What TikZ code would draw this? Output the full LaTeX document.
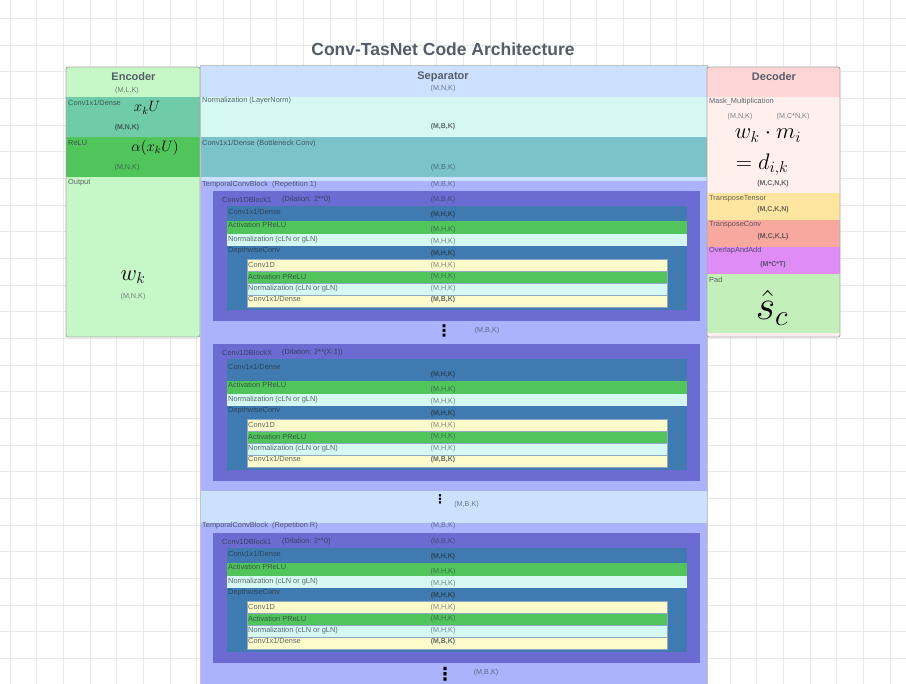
\documentclass[tikz,border=0pt]{standalone}
\usepackage{fix-cm}
\usepackage[no-math]{fontspec}
\setmainfont{Liberation Sans}
\newfontfamily\symfont{DejaVu Sans}

\definecolor{gridgray}{HTML}{E8E8E8}
\definecolor{framegray}{HTML}{A8A8A8}
\definecolor{headgray}{HTML}{555D66}
\definecolor{txtdark}{HTML}{26303A}
\definecolor{encgreen}{HTML}{C6F7C6}
\definecolor{encteal}{HTML}{70CCA8}
\definecolor{relugreen}{HTML}{52C45C}
\definecolor{sepblue}{HTML}{CCE0FF}
\definecolor{normcyan}{HTML}{D6F8F3}
\definecolor{bneck}{HTML}{7CC2C9}
\definecolor{lavender}{HTML}{ABB3FC}
\definecolor{blkpurple}{HTML}{6B6BD1}
\definecolor{steel}{HTML}{3F7AB0}
\definecolor{rowyellow}{HTML}{FDFBCB}
\definecolor{rowedge}{HTML}{8FA8C4}
\definecolor{decpink}{HTML}{FFD6D6}
\definecolor{maskpink}{HTML}{FFF0EE}
\definecolor{ttyellow}{HTML}{FFE6A0}
\definecolor{tcsalmon}{HTML}{F8A99F}
\definecolor{oaviolet}{HTML}{DF8CF7}
\definecolor{padgreen}{HTML}{C3EFBB}

\tikzset{
  gridline/.style={draw=gridgray, line width=0.6pt},
  boxframe/.style={draw=framegray, line width=0.9pt, rounded corners=2pt},
  charttitle/.style={font=\bfseries\fontsize{17.5}{20}\selectfont, text=headgray, inner sep=0pt},
  head/.style={font=\bfseries\fontsize{11}{13}\selectfont, text=headgray, inner sep=0pt},
  lbl/.style={anchor=west, inner sep=0pt, font=\fontsize{7.4}{8}\selectfont, text=txtdark, text opacity=0.72},
  dims/.style={inner sep=0pt, font=\fontsize{7.2}{8}\selectfont, text=txtdark, text opacity=0.58},
  dimsb/.style={dims, font=\bfseries\fontsize{7}{8}\selectfont, text opacity=0.72},
  eq/.style={inner sep=0pt, font=\fontsize{15}{17}\selectfont},
  eqbig/.style={inner sep=0pt, font=\fontsize{22.5}{25}\selectfont},
  dotsnode/.style={inner sep=0pt, font=\symfont\bfseries\fontsize{16}{16}\selectfont},
  innerrow/.style={draw=rowedge, line width=0.5pt},
}

\begin{document}
\begin{tikzpicture}[x=1pt, y=-1pt]
\useasboundingbox (0,0) rectangle (906,684);
\fill[white] (0,0) rectangle (906,684);
% background grid
\foreach \gx in {0,...,33}
  \draw[gridline] ({10+26.67*\gx},0) -- ({10+26.67*\gx},684);
\foreach \gy in {0,...,24}
  \draw[gridline] (0,{18.3+26.67*\gy}) -- (906,{18.3+26.67*\gy});

\node[charttitle] (title) at (443,49) {Conv-TasNet Code Architecture};

% encoder
\fill[encgreen] (66,67) rectangle (200,97);
\fill[encteal] (66,97) rectangle (200,137);
\fill[relugreen] (66,137) rectangle (200,177);
\fill[encgreen] (66,177) rectangle (200,337);
\draw[boxframe] (66,67) rectangle (200,337);
\node[head] (enc) at (133.5,77) {Encoder};
\node[dims] (enc-in) at (127,91) {(M,L,K)};
\node[lbl] (enc-conv) at (68,102.5) {Conv1x1/Dense};
\node[eq] (enc-xu) at (147,108) {$x_k U$};
\node[dimsb] (enc-conv-dim) at (127,128) {(M,N,K)};
\node[lbl] (enc-relu) at (68,142.5) {ReLU};
\node[eq] (enc-alpha) at (155,148) {$\alpha(x_k U)$};
\node[dims] (enc-relu-dim) at (127,168) {(M,N,K)};
\node[lbl] (enc-out) at (68,182.7) {Output};
\node[eqbig] (enc-w) at (133,277) {$w_k$};
\node[dims] (enc-out-dim) at (133,296.5) {(M,N,K)};

% separator
\fill[sepblue] (200,65) rectangle (707,684);
\fill[normcyan] (200,97) rectangle (707,137);
\fill[bneck] (200,137) rectangle (707,177);
\fill[lavender] (200,181) rectangle (707,491);
\fill[lavender] (200,523) rectangle (707,684);
\draw[framegray!70, line width=0.8pt] (200,684) -- (200,65) -- (707,65) -- (707,684);
\node[head] (sep) at (443,77) {Separator};
\node[dims] (sep-in) at (443,89) {(M,N,K)};
\node[lbl] (sep-norm) at (202,101) {Normalization (LayerNorm)};
\node[dimsb] (sep-norm-dim) at (443,127) {(M,B,K)};
\node[lbl] (sep-bneck) at (202,144) {Conv1x1/Dense (Bottleneck Conv)};
\node[dims] (sep-bneck-dim) at (443,168) {(M,B,K)};
\node[lbl] (tcb1) at (202,185) {TemporalConvBlock\ \ (Repetition 1)};
\node[dims] (tcb1-dim) at (443,185) {(M,B,K)};
\node[lbl] (tcbR) at (202,526) {TemporalConvBlock\ \ (Repetition R)};
\node[dims] (tcbR-dim) at (443,526) {(M,B,K)};

\foreach \ty/\ex/\blk/\dil [count=\n] in {191/0/Conv1DBlock1/2**0, 344/7/Conv1DBlockX/2**(X-1), 533/0/Conv1DBlock1/2**0}{
  \fill[blkpurple] (213,\ty) rectangle (700,{\ty+130+\ex});
  \fill[steel] (227,{\ty+15}) rectangle (687,{\ty+119+\ex});
  \fill[relugreen] (227,{\ty+30+\ex}) rectangle (687,{\ty+43+\ex});
  \fill[normcyan] (227,{\ty+43+\ex}) rectangle (687,{\ty+55+\ex});
  \path[innerrow, fill=rowyellow] (247,{\ty+68+\ex}) rectangle (667,{\ty+80+\ex});
  \path[innerrow, fill=relugreen] (247,{\ty+80+\ex}) rectangle (667,{\ty+92+\ex});
  \path[innerrow, fill=normcyan] (247,{\ty+92+\ex}) rectangle (667,{\ty+104+\ex});
  \path[innerrow, fill=rowyellow] (247,{\ty+104+\ex}) rectangle (667,{\ty+116+\ex});
  \node[lbl] (blk\n) at (222,{\ty+8.5}) {\blk};
  \node[lbl] (blk\n-dil) at (282,{\ty+8.5}) {(Dilation: \dil)};
  \ifnum\n=2 \else \node[dims] (blk\n-dim) at (443,{\ty+8.5}) {(M,B,K)}; \fi
  \node[lbl] (blk\n-conv) at (228,{\ty+21+\ex/4}) {Conv1x1/Dense};
  \node[dimsb] (blk\n-conv-dim) at (443,{\ty+24+\ex}) {(M,H,K)};
  \node[lbl] (blk\n-act) at (228,{\ty+34+\ex}) {Activation PReLU};
  \node[dims] (blk\n-act-dim) at (443,{\ty+39+\ex}) {(M,H,K)};
  \node[lbl] (blk\n-norm) at (228,{\ty+48.5+\ex}) {Normalization (cLN or gLN)};
  \node[dims] (blk\n-norm-dim) at (443,{\ty+50.5+\ex}) {(M,H,K)};
  \node[lbl] (blk\n-dw) at (228,{\ty+60+\ex}) {DepthwiseConv};
  \node[dimsb] (blk\n-dw-dim) at (443,{\ty+62.5+\ex}) {(M,H,K)};
  \node[lbl] (blk\n-c1d) at (248,{\ty+73.5+\ex}) {Conv1D};
  \node[dims] (blk\n-c1d-dim) at (443,{\ty+75+\ex}) {(M,H,K)};
  \node[lbl] (blk\n-act2) at (248,{\ty+86+\ex}) {Activation PReLU};
  \node[dims] (blk\n-act2-dim) at (443,{\ty+86+\ex}) {(M,H,K)};
  \node[lbl] (blk\n-norm2) at (248,{\ty+98+\ex}) {Normalization (cLN or gLN)};
  \node[dims] (blk\n-norm2-dim) at (443,{\ty+97.5+\ex}) {(M,H,K)};
  \node[lbl] (blk\n-c1x1) at (248,{\ty+108+\ex}) {Conv1x1/Dense};
  \node[dimsb] (blk\n-c1x1-dim) at (443,{\ty+108.5+\ex}) {(M,B,K)};
}

\node[dotsnode] (dots1) at (444,331) {⋮};
\node[dims] (dots1-dim) at (487,331) {(M,B,K)};
\node[dotsnode, font=\symfont\bfseries\fontsize{12}{12}\selectfont] (dots2) at (440,499) {⋮};
\node[dims] (dots2-dim) at (466.5,505) {(M,B,K)};
\node[dotsnode, font=\symfont\bfseries\fontsize{18}{18}\selectfont] (dots3) at (445,674.5) {⋮};
\node[dims] (dots3-dim) at (486,673) {(M,B,K)};

% decoder
\fill[decpink] (707,67) rectangle (840,97);
\fill[maskpink] (707,97) rectangle (840,193.3);
\fill[ttyellow] (707,193.3) rectangle (840,220);
\fill[tcsalmon] (707,220) rectangle (840,246.7);
\fill[oaviolet] (707,246.7) rectangle (840,274);
\fill[padgreen] (707,274) rectangle (840,332.7);
\fill[maskpink] (707,332.7) rectangle (840,337);
\draw[boxframe] (707,67) rectangle (840,337);
\node[head] (dec) at (774,77) {Decoder};
\node[lbl] (dec-mask) at (709,101.5) {Mask\_Multiplication};
\node[dims] (dec-mask-w) at (740,117) {(M,N,K)};
\node[dims] (dec-mask-m) at (793,117) {(M,C*N,K)};
\node[eqbig] (dec-wm) at (768,135.5) {$w_k \cdot m_i$};
\node[eqbig] (dec-d) at (762,164.5) {$= d_{i,k}$};
\node[dimsb] (dec-mask-dim) at (773,184) {(M,C,N,K)};
\node[lbl] (dec-tt) at (709,199) {TransposeTensor};
\node[dimsb] (dec-tt-dim) at (773,210) {(M,C,K,N)};
\node[lbl] (dec-tc) at (709,225) {TransposeConv};
\node[dimsb] (dec-tc-dim) at (773,236.5) {(M,C,K,L)};
\node[lbl] (dec-oa) at (709,251) {OverlapAndAdd};
\node[dimsb] (dec-oa-dim) at (773,265) {(M*C*T)};
\node[lbl] (dec-pad) at (709,279.5) {Pad};
\node[inner sep=0pt, font=\fontsize{42}{46}\selectfont] (dec-s) at (772,308) {$\hat{s}_c$};
\end{tikzpicture}
\end{document}
